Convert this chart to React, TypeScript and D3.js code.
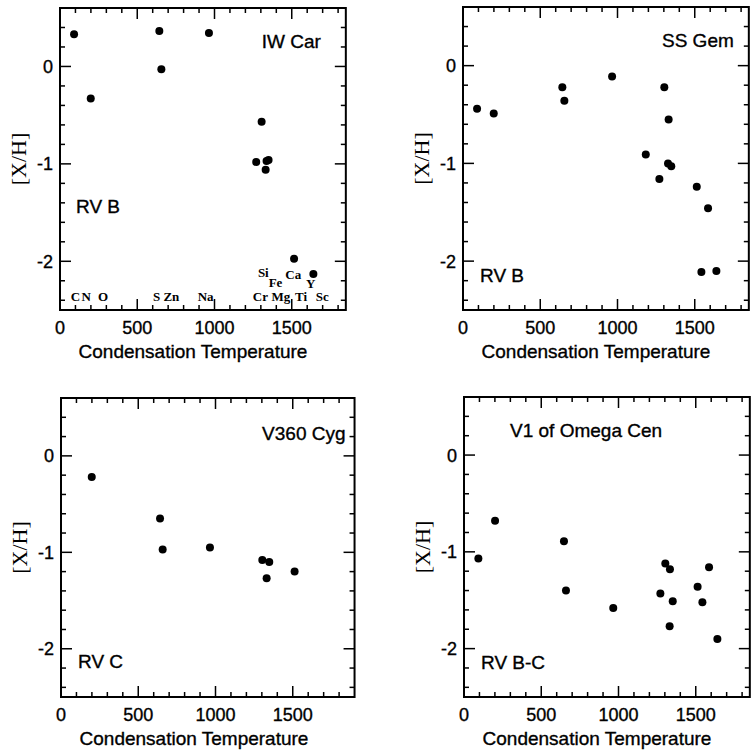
import React, { useRef, useEffect } from "react";
import * as d3 from "d3";

// tick labels shared by all four panels
const xTickLabels = [0, 500, 1000, 1500];
const yTickLabels = [-2, -1, 0];

// [X/H] vs condensation temperature
const iwCar = [
	{ t: 91, v: 0.33 }, { t: 199, v: -0.33 }, { t: 643, v: 0.365 }, { t: 656, v: -0.03 },
	{ t: 964, v: 0.344 }, { t: 1305, v: -0.567 }, { t: 1270, v: -0.98 }, { t: 1331, v: -1.06 },
	{ t: 1337, v: -0.97 }, { t: 1350, v: -0.96 }, { t: 1515, v: -1.975 }, { t: 1640, v: -2.13 }
];
const ssGem = [
	{ t: 91, v: -0.44 }, { t: 199, v: -0.49 }, { t: 643, v: -0.22 }, { t: 656, v: -0.36 },
	{ t: 965, v: -0.11 }, { t: 1303, v: -0.22 }, { t: 1331, v: -0.55 }, { t: 1183, v: -0.91 },
	{ t: 1271, v: -1.16 }, { t: 1327, v: -1.0 }, { t: 1348, v: -1.03 }, { t: 1513, v: -1.24 },
	{ t: 1586, v: -1.46 }, { t: 1543, v: -2.11 }, { t: 1640, v: -2.1 }
];
const v360Cyg = [
	{ t: 199, v: -0.22 }, { t: 641, v: -0.65 }, { t: 658, v: -0.97 }, { t: 964, v: -0.95 },
	{ t: 1303, v: -1.08 }, { t: 1348, v: -1.1 }, { t: 1331, v: -1.27 }, { t: 1512, v: -1.2 }
];
const v1OmegaCen = [
	{ t: 93, v: -1.07 }, { t: 201, v: -0.68 }, { t: 647, v: -0.89 }, { t: 660, v: -1.4 },
	{ t: 966, v: -1.58 }, { t: 1303, v: -1.12 }, { t: 1333, v: -1.18 }, { t: 1271, v: -1.43 },
	{ t: 1351, v: -1.51 }, { t: 1331, v: -1.77 }, { t: 1512, v: -1.36 }, { t: 1543, v: -1.52 },
	{ t: 1586, v: -1.16 }, { t: 1640, v: -1.9 }
];

// element names printed along the bottom of the IW Car panel
const elementNames = ["C", "N", "O", "S", "Zn", "Na", "Cr", "Mg", "Ti", "Sc", "Si", "Fe", "Ca", "Y"];
const elementTemps = [100, 170, 278, 626, 721, 943, 1297, 1430, 1560, 1698, 1316, 1395, 1510, 1623];
const elementLevels = [-2.405, -2.405, -2.405, -2.405, -2.405, -2.405, -2.405, -2.405, -2.405, -2.405, -2.16, -2.26, -2.18, -2.27];

const panels = [
	{ data: iwCar, star: "IW Car", type: "RV B", left: 60, top: 8, bottom: 310, xMax: 1850,
		starPos: [-25, 40, "end"], typePos: [16, 205], elements: true },
	{ data: ssGem, star: "SS Gem", type: "RV B", left: 463, top: 7, bottom: 310, xMax: 1850,
		starPos: [-15, 40, "end"], typePos: [17, 275], elements: false },
	{ data: v360Cyg, star: "V360 Cyg", type: "RV C", left: 61, top: 398, bottom: 697, xMax: 1900,
		starPos: [-9, 42, "end"], typePos: [17, 270], elements: false },
	{ data: v1OmegaCen, star: "V1 of Omega Cen", type: "RV B-C", left: 464, top: 397, bottom: 697, xMax: 1850,
		starPos: [46, 40, "start"], typePos: [17, 272], elements: false }
];

const sans = "'Liberation Sans', Arial, Helvetica, sans-serif";
const serif = "'Liberation Serif', 'Times New Roman', serif";

const App = () => {
	const chartRef = useRef(null);

	useEffect(() => {
		const svg = d3.select(chartRef.current);
		svg.selectAll("*").remove();
		svg.append("rect").attr("width", 751).attr("height", 751).attr("fill", "#fff");

		// scanned print looks a bit heavier than plain Helvetica
		const ink = (sel) => sel.attr("stroke", "#000").attr("stroke-width", 0.35);

		panels.forEach((p) => {
			const x = d3.scaleLinear().domain([0, p.xMax]).range([p.left, p.left + p.xMax * 0.1545]);
			const y = d3.scaleLinear().domain([-2.5, 0.6]).range([p.bottom, p.top]);
			const right = x(p.xMax);
			const g = svg.append("g");

			// ticks: minor every 100 / 0.2, major every 500 / 1, on all four sides
			const xMinor = d3.range(100, p.xMax, 100);
			const yMinor = d3.range(-24, 6, 2).map((d) => d / 10);
			const tk = (isMajor) => (isMajor ? 11 : 5);

			xMinor.forEach((t) => {
				const len = tk(t % 500 === 0);
				g.append("line").attr("x1", x(t)).attr("x2", x(t)).attr("y1", p.bottom).attr("y2", p.bottom - len)
					.attr("stroke", "#000").attr("stroke-width", 1.5);
				g.append("line").attr("x1", x(t)).attr("x2", x(t)).attr("y1", p.top).attr("y2", p.top + len)
					.attr("stroke", "#000").attr("stroke-width", 1.5);
			});
			yMinor.forEach((v) => {
				const len = tk(Math.abs(v - Math.round(v)) < 1e-6);
				g.append("line").attr("x1", p.left).attr("x2", p.left + len).attr("y1", y(v)).attr("y2", y(v))
					.attr("stroke", "#000").attr("stroke-width", 1.5);
				g.append("line").attr("x1", right).attr("x2", right - len).attr("y1", y(v)).attr("y2", y(v))
					.attr("stroke", "#000").attr("stroke-width", 1.5);
			});

			// frame
			g.append("rect")
				.attr("x", p.left).attr("y", p.top)
				.attr("width", right - p.left).attr("height", p.bottom - p.top)
				.attr("fill", "none").attr("stroke", "#000").attr("stroke-width", 2);

			// tick labels
			g.selectAll(".xl").data(xTickLabels).enter().append("text")
				.attr("x", (d) => x(d)).attr("y", p.bottom + 24)
				.attr("text-anchor", "middle")
				.style("font-family", sans).style("font-size", "18px")
				.call(ink)
				.text((d) => d);
			g.selectAll(".yl").data(yTickLabels).enter().append("text")
				.attr("x", p.left - 7).attr("y", (d) => y(d) + 6.5)
				.attr("text-anchor", "end")
				.style("font-family", sans).style("font-size", "18px")
				.call(ink)
				.text((d) => d);

			// axis titles
			g.append("text")
				.attr("x", p.left + 133).attr("y", p.bottom + 48)
				.attr("text-anchor", "middle")
				.style("font-family", sans).style("font-size", "19px")
				.call(ink)
				.text("Condensation Temperature");
			g.append("text")
				.attr("transform", `translate(${p.left - 34}, ${(p.top + p.bottom) / 2}) rotate(-90)`)
				.attr("text-anchor", "middle")
				.style("font-family", serif).style("font-size", "22px")
				.text("[X/H]");

			// star name and RV class
			g.append("text")
				.attr("x", (p.starPos[2] === "end" ? right : p.left) + p.starPos[0]).attr("y", p.top + p.starPos[1])
				.attr("text-anchor", p.starPos[2])
				.style("font-family", sans).style("font-size", "19px")
				.call(ink)
				.text(p.star);
			g.append("text")
				.attr("x", p.left + p.typePos[0]).attr("y", p.top + p.typePos[1])
				.attr("text-anchor", "start")
				.style("font-family", sans).style("font-size", "19px")
				.call(ink)
				.text(p.type);

			// points
			g.selectAll("circle").data(p.data).enter().append("circle")
				.attr("cx", (d) => x(d.t)).attr("cy", (d) => y(d.v))
				.attr("r", 4).attr("fill", "#000");

			if (p.elements) {
				g.selectAll(".el").data(elementNames).enter().append("text")
					.attr("x", (d, i) => x(elementTemps[i]))
					.attr("y", (d, i) => y(elementLevels[i]))
					.attr("text-anchor", "middle")
					.style("font-family", serif).style("font-size", "13px").style("font-weight", "bold")
					.text((d) => d);
			}
		});
	}, []);

	return <svg ref={chartRef} width={751} height={751} style={{ position: "absolute", left: 0, top: 0 }}></svg>;
};

export default App;
